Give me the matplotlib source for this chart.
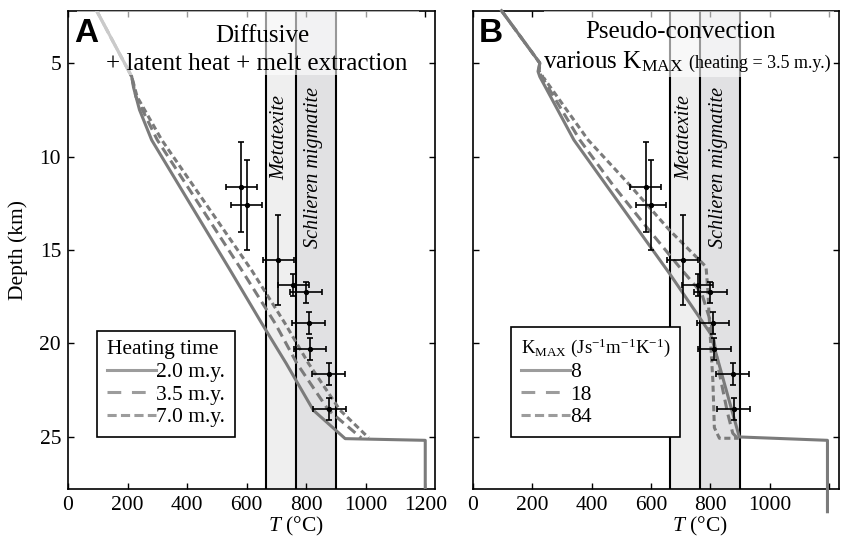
import matplotlib
matplotlib.use('Agg')
import matplotlib.pyplot as plt
from matplotlib.lines import Line2D

plt.rcParams['font.family'] = ['Liberation Serif', 'DejaVu Serif']
plt.rcParams['mathtext.fontset'] = 'custom'
plt.rcParams['mathtext.rm'] = 'Liberation Serif'
plt.rcParams['mathtext.it'] = 'Liberation Serif:italic'

# observed P-T estimates (same in both panels)
obs_T = [582, 600, 707, 757, 800, 808, 813, 875, 878]
obs_d = [11.65, 12.6, 15.54, 16.88, 17.27, 18.9, 20.3, 21.64, 23.5]
obs_Terr = [52, 51, 52, 52, 54, 55, 55, 55, 55]
obs_derr = [2.4, 2.4, 2.4, 0.58, 0.58, 0.57, 0.58, 0.6, 0.6]

# panel A: diffusive models, heating time
a_20_T = [96, 214, 220, 240, 281, 545, 651, 733, 824, 931, 1200, 1200]
a_20_d = [2.2, 5.73, 6.3, 7.5, 9.12, 16.09, 18.93, 21.07, 23.57, 25.09, 25.18, 27.8]
a_35_T = [96, 214, 228, 300, 584, 696, 769, 875, 985]
a_35_d = [2.2, 5.73, 6.8, 9.12, 16.09, 18.93, 21.07, 23.57, 25.05]
a_70_T = [96, 214, 232, 315, 617, 729, 808, 914, 1010]
a_70_d = [2.2, 5.73, 6.8, 9.12, 16.09, 18.93, 21.07, 23.57, 25.05]

# panel B: pseudo-convection, various K_MAX
b_8_T = [96, 225, 219, 225, 340, 662, 800, 897, 1194, 1194]
b_8_d = [2.2, 5.0, 5.45, 5.73, 9.12, 16.26, 19.47, 25.0, 25.18, 29.0]
b_18_T = [96, 225, 221, 360, 470, 584, 700, 770, 802, 830, 858, 875, 890]
b_18_d = [2.2, 5.0, 5.45, 9.12, 11.5, 13.76, 16.0, 17.3, 18.93, 21.6, 23.75, 24.8, 25.05]
b_84_T = [96, 225, 223, 388, 528, 662, 757, 785, 791, 797, 808, 813, 830, 895]
b_84_d = [2.2, 5.0, 5.45, 9.12, 11.53, 13.94, 15.45, 15.9, 17.15, 19.0, 22.0, 24.5, 25.07, 25.07]

migmatite_bounds = [665, 765, 900]

LC = '#7b7b7b'
LW = 2.2
DASH = (0, (3.2, 1.8))
DOT = (0, (2.0, 1.2))


def base_axes(ax, ylabels=True):
    ax.set_xlim(0, 1233)
    ax.set_ylim(27.8, 2.2)
    ax.set_xticks(range(0, 1201, 200))
    ax.set_yticks([5, 10, 15, 20, 25])
    ax.tick_params(direction='in', top=True, right=True, length=4, width=1,
                   labelsize=15.5, pad=5)
    for s in ax.spines.values():
        s.set_linewidth(1.2)
    ax.axvspan(migmatite_bounds[0], migmatite_bounds[1], color='#efefef', zorder=0, lw=0)
    ax.axvspan(migmatite_bounds[1], migmatite_bounds[2], color='#e1e1e3', zorder=0, lw=0)
    for xb in migmatite_bounds:
        ax.axvline(xb, color='k', lw=1.5, zorder=1)
    ax.text(712, 9.0, 'Metatexite', rotation=90, style='italic', fontsize=14.5,
            ha='center', va='center', zorder=2)
    ax.text(826, 10.6, 'Schlieren migmatite', rotation=90, style='italic', fontsize=14.5,
            ha='center', va='center', zorder=2)
    ax.errorbar(obs_T, obs_d, xerr=obs_Terr, yerr=obs_derr, fmt='o', ms=2.8,
                color='k', ecolor='k', elinewidth=1.2, capsize=2.2, capthick=1.2, zorder=5)
    if ylabels:
        ax.set_ylabel('Depth (km)', fontsize=15.5, labelpad=8)
    else:
        ax.set_yticklabels([])
    ax.text(0.62, -0.088, '$T$ (°C)', transform=ax.transAxes, fontsize=15.5,
            ha='center', va='baseline')


def add_legend(ax, labels, title, x0, title_size=15.5):
    handles = [Line2D([], [], color='#9c9c9c', lw=LW),
               Line2D([], [], color='#9c9c9c', lw=LW, ls=(0, (4.5, 3.5))),
               Line2D([], [], color='#9c9c9c', lw=LW, ls=(0, (3.0, 1.4)))]
    leg = ax.legend(handles, labels, title=title,
                    loc='lower left', bbox_to_anchor=(x0, 0.109), fancybox=False,
                    edgecolor='k', framealpha=1, fontsize=15.5, title_fontsize=title_size,
                    handlelength=2.3, handletextpad=0.0, borderpad=0.45,
                    labelspacing=0.12, alignment='left', borderaxespad=0)
    leg.get_frame().set_linewidth(1.2)
    leg.set_zorder(9)
    return leg


fig = plt.figure(figsize=(8.43, 5.39), dpi=100)
axA = fig.add_axes([0.0807, 0.0922, 0.4354, 0.888])
axB = fig.add_axes([0.5611, 0.0922, 0.4342, 0.888])

# ---- A
base_axes(axA)
axA.plot(a_20_T, a_20_d, color=LC, lw=LW, zorder=3)
axA.plot(a_35_T, a_35_d, color=LC, lw=LW, ls=DASH, zorder=3)
axA.plot(a_70_T, a_70_d, color=LC, lw=LW, ls=DOT, zorder=3)
axA.fill_between([30, 1180], 2.2, 5.64, color='white', alpha=0.6, lw=0, zorder=6)
axA.text(0.529, 0.9346, 'Diffusive', transform=axA.transAxes, fontsize=18,
         ha='center', va='baseline', zorder=7)
axA.text(0.515, 0.876, '+ latent heat + melt extraction', transform=axA.transAxes,
         fontsize=18, ha='center', va='baseline', zorder=7)
axA.text(0.016, 0.935, 'A', transform=axA.transAxes, fontsize=24, fontweight='bold',
         family='Liberation Sans', ha='left', va='baseline', zorder=8)
add_legend(axA, ['2.0 m.y.', '3.5 m.y.', '7.0 m.y.'], 'Heating time', 0.079)

# ---- B
base_axes(axB, ylabels=False)
axB.set_xticklabels(['0', '200', '400', '600', '800', '1000', ''])
axB.plot(b_8_T, b_8_d, color=LC, lw=LW, zorder=3, clip_on=False)
axB.plot(b_18_T, b_18_d, color=LC, lw=LW, ls=DASH, zorder=3)
axB.plot(b_84_T, b_84_d, color=LC, lw=LW, ls=DOT, zorder=3)
axB.fill_between([240, 1215], 2.2, 5.73, color='white', alpha=0.6, lw=0, zorder=6)
axB.text(0.566, 0.943, 'Pseudo-convection', transform=axB.transAxes, fontsize=18,
         ha='center', va='baseline', zorder=7)
axB.text(0.575, 0.880, r'various K$_{\mathrm{MAX}}$', transform=axB.transAxes,
         fontsize=18, ha='right', va='baseline', zorder=7)
axB.text(0.59, 0.880, '(heating = 3.5 m.y.)', transform=axB.transAxes,
         fontsize=13, ha='left', va='baseline', zorder=7)
axB.text(0.0145, 0.9336, 'B', transform=axB.transAxes, fontsize=24, fontweight='bold',
         family='Liberation Sans', ha='left', va='baseline', zorder=8)
add_legend(axB, ['8', '18', '84'],
           r'K$_{\mathrm{MAX}}$ (Js$^{-1}$m$^{-1}$K$^{-1}$)', 0.104, title_size=13.5)

plt.savefig('out.png', dpi=100)
